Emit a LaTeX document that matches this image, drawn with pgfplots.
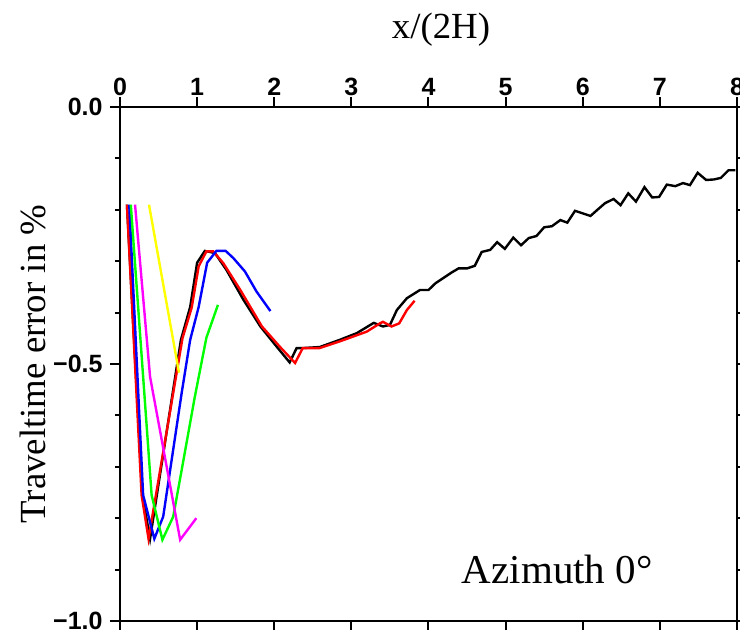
\documentclass[border=0pt]{standalone}
\usepackage{fontspec}
\setmainfont{Liberation Serif}
\newfontfamily\ticksfont{Liberation Sans}
\usepackage{pgfplots}
\pgfplotsset{compat=1.18}
\definecolor{gmtgreen}{RGB}{0,255,0}
\definecolor{gmtmagenta}{RGB}{255,0,255}
\definecolor{gmtyellow}{RGB}{255,255,0}
\begin{document}
\begin{tikzpicture}
\begin{axis}[
  at={(0,0)}, anchor=south west,
  scale only axis, width=308.5pt, height=257pt,
  xmin=0, xmax=8, ymin=-1, ymax=0,
  xtick={0,1,...,8},
  ytick={-1,-0.5,0},
  yticklabels={−1.0,−0.5,0.0},
  minor ytick={-0.9,-0.8,-0.7,-0.6,-0.4,-0.3,-0.2,-0.1},
  xticklabel pos=top,
  tick align=outside,
  major tick length=5pt,
  minor tick length=2.5pt,
  every tick/.style={black, line width=1pt},
  axis line style={line width=1.2pt},
  ticklabel style={font=\ticksfont\bfseries\fontsize{12.5}{14}\selectfont},
  /pgf/number format/assume math mode=true,
  xticklabel style={inner sep=0.5pt},
  yticklabel style={inner sep=3.5pt},
  clip=true,
]
\addplot[black, line width=1.2pt] coordinates {
(0.09,-0.19) (0.29,-0.755) (0.39,-0.84) (0.79,-0.453) (0.91,-0.389)
(1.00,-0.303) (1.10,-0.28) (1.23,-0.284) (1.38,-0.317) (1.60,-0.375)
(1.82,-0.427) (2.03,-0.466) (2.20,-0.497) (2.29,-0.469) (2.37,-0.469)
(2.59,-0.467) (2.85,-0.453) (3.07,-0.44) (3.29,-0.42) (3.41,-0.427)
(3.50,-0.424) (3.59,-0.395) (3.72,-0.372) (3.89,-0.356) (4.00,-0.356)
(4.09,-0.343) (4.19,-0.333) (4.30,-0.322) (4.39,-0.314) (4.50,-0.314)
(4.60,-0.309) (4.69,-0.282) (4.80,-0.278) (4.89,-0.263) (4.99,-0.276)
(5.10,-0.254) (5.20,-0.269) (5.30,-0.255) (5.40,-0.251) (5.50,-0.234)
(5.60,-0.232) (5.71,-0.220) (5.80,-0.225) (5.90,-0.202) (6.00,-0.207)
(6.10,-0.212) (6.19,-0.200) (6.29,-0.187) (6.40,-0.179) (6.49,-0.191)
(6.59,-0.168) (6.69,-0.184) (6.80,-0.156) (6.90,-0.176) (6.99,-0.175)
(7.09,-0.151) (7.20,-0.154) (7.30,-0.148) (7.39,-0.152) (7.49,-0.128)
(7.60,-0.142) (7.70,-0.141) (7.79,-0.138) (7.89,-0.123) (7.98,-0.123)
};
\addplot[red, line width=1.2pt] coordinates {
(0.09,-0.19) (0.28,-0.755) (0.37,-0.84) (0.81,-0.45) (0.93,-0.39)
(1.02,-0.31) (1.12,-0.281) (1.21,-0.281) (1.34,-0.304) (1.56,-0.356)
(1.84,-0.427) (2.07,-0.466) (2.27,-0.498) (2.37,-0.469) (2.59,-0.469)
(2.85,-0.456) (3.20,-0.437) (3.37,-0.421) (3.41,-0.418) (3.52,-0.427)
(3.62,-0.421) (3.72,-0.395) (3.82,-0.377)
};
\addplot[blue, line width=1.2pt] coordinates {
(0.12,-0.19) (0.30,-0.755) (0.445,-0.84) (0.56,-0.797) (0.80,-0.556)
(0.91,-0.453) (1.02,-0.389) (1.13,-0.303) (1.25,-0.28) (1.37,-0.28)
(1.47,-0.294) (1.62,-0.32) (1.77,-0.359) (1.95,-0.397)
};
\addplot[gmtgreen, line width=1.2pt] coordinates {
(0.14,-0.19) (0.41,-0.755) (0.55,-0.842) (0.69,-0.797) (0.80,-0.706)
(0.97,-0.564) (1.12,-0.449) (1.27,-0.385)
};
\addplot[gmtmagenta, line width=1.2pt] coordinates {
(0.195,-0.19) (0.39,-0.525) (0.78,-0.842) (0.99,-0.80)
};
\addplot[gmtyellow, line width=1.2pt] coordinates {
(0.376,-0.19) (0.765,-0.517)
};
\node[font=\fontsize{20.5}{24}\selectfont] at (axis cs:5.67,-0.90) {Azimuth 0°};
\end{axis}
\node[font=\fontsize{18.4}{20}\selectfont] at (160.5pt,295.5pt) {x/(2H)};
\node[rotate=90, font=\fontsize{18.4}{20}\selectfont] at (-43.5pt,128.5pt) {Traveltime error in \%};
\pgfresetboundingbox
\useasboundingbox (-60pt,-4.5pt) rectangle (310pt,310.5pt);
\end{tikzpicture}
\end{document}
